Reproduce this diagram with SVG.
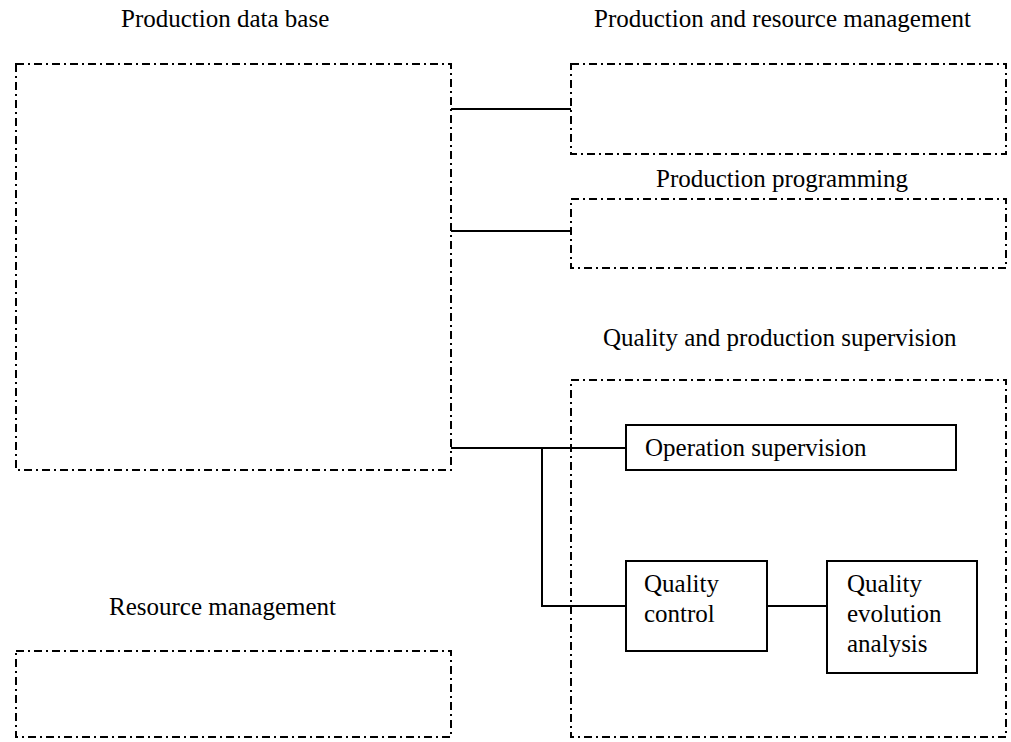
<svg xmlns="http://www.w3.org/2000/svg" width="1011" height="742" viewBox="0 0 1011 742">
  <style>
    .grp { fill: none; stroke: #000; stroke-width: 2; stroke-dasharray: 8 4 2 4; }
    .box { fill: #fff; stroke: #000; stroke-width: 2; }
    .wire { fill: none; stroke: #000; stroke-width: 2; }
    text { font-size: 25px; fill: #000; }
  </style>
  <rect width="1011" height="742" fill="#fff"/>

  <!-- connectors -->
  <g id="connectors">
    <line class="wire" x1="451" y1="109" x2="571" y2="109"/>
    <line class="wire" x1="451" y1="231" x2="571" y2="231"/>
    <polyline class="wire" points="451,448 626,448"/>
    <polyline class="wire" points="542,448 542,606 626,606"/>
    <line class="wire" x1="767" y1="606" x2="827" y2="606"/>
  </g>

  <g id="nodes" font-family="'Liberation Serif', 'DejaVu Serif', serif">
    <g id="production-data-base">
      <rect class="grp" x="16" y="64" width="435" height="406"/>
      <text x="121" y="27">Production data base</text>
    </g>

    <g id="production-resource-management">
      <rect class="grp" x="571" y="64" width="435" height="90"/>
      <text x="594" y="27">Production and resource management</text>
    </g>

    <g id="production-programming">
      <rect class="grp" x="571" y="199" width="435" height="69"/>
      <text x="656" y="187">Production programming</text>
    </g>

    <g id="quality-production-supervision">
      <rect class="grp" x="571" y="380" width="435" height="357"/>
      <text x="603" y="346">Quality and production supervision</text>
    </g>

    <g id="resource-management">
      <rect class="grp" x="16" y="651" width="435" height="86"/>
      <text x="109" y="615">Resource management</text>
    </g>

    <g id="operation-supervision">
      <rect class="box" x="626" y="425" width="330" height="45"/>
      <text x="645" y="456">Operation supervision</text>
    </g>

    <g id="quality-control">
      <rect class="box" x="626" y="561" width="141" height="90"/>
      <text x="644" y="592">Quality</text>
      <text x="644" y="622">control</text>
    </g>

    <g id="quality-evolution-analysis">
      <rect class="box" x="827" y="561" width="150" height="112"/>
      <text x="847" y="592">Quality</text>
      <text x="847" y="622">evolution</text>
      <text x="847" y="652">analysis</text>
    </g>
  </g>
</svg>
